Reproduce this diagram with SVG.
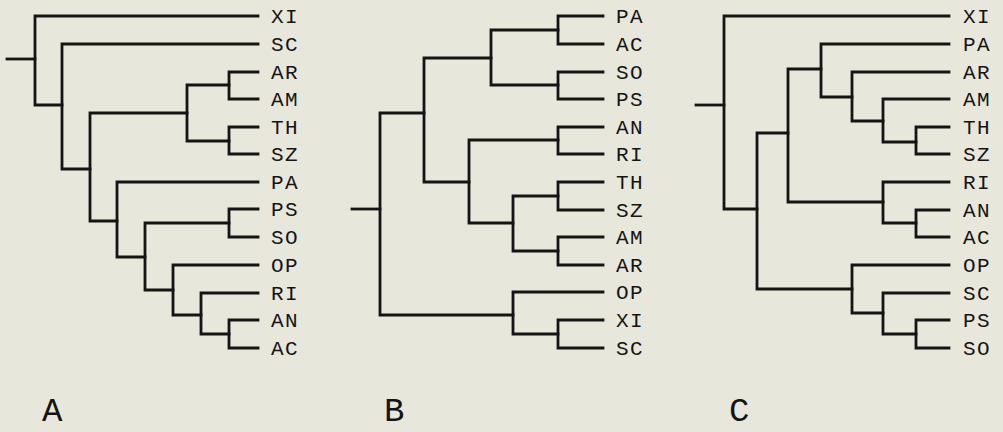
<svg xmlns="http://www.w3.org/2000/svg" width="1003" height="432" viewBox="0 0 1003 432">
<style>
.bg{fill:#e8e7dc}
.edge{fill:none;stroke:#141414;stroke-width:2.8;stroke-linecap:square;stroke-linejoin:miter}
.leaf{font-family:"Liberation Mono","DejaVu Sans Mono",monospace;font-size:21px;fill:#141414;letter-spacing:1.5px}
.panel{font-family:"Liberation Mono","DejaVu Sans Mono",monospace;font-size:34px;fill:#141414}
</style>
<rect class="bg" x="0" y="0" width="1003" height="432"/>
<g id="connectors">
<g id="connectors-A">
<path class="edge" d="M7 59 H35"/>
<path class="edge" d="M258 16 H35 V105 H62"/>
<path class="edge" d="M258 44 H62 V169 H90"/>
<path class="edge" d="M187 113 H90 V221 H117"/>
<path class="edge" d="M229 85 H187 V141 H229"/>
<path class="edge" d="M258 72 H229 V99 H258"/>
<path class="edge" d="M258 127 H229 V154 H258"/>
<path class="edge" d="M258 182 H117 V257 H145"/>
<path class="edge" d="M229 223 H145 V290 H173"/>
<path class="edge" d="M258 209 H229 V237 H258"/>
<path class="edge" d="M258 265 H173 V315 H201"/>
<path class="edge" d="M258 293 H201 V334 H229"/>
<path class="edge" d="M258 320 H229 V348 H258"/>
</g>
<g id="connectors-B">
<path class="edge" d="M352 209 H380"/>
<path class="edge" d="M424 113 H380 V315 H513"/>
<path class="edge" d="M491 58 H424 V182 H469"/>
<path class="edge" d="M558 30 H491 V85 H558"/>
<path class="edge" d="M603 16 H558 V44 H603"/>
<path class="edge" d="M603 72 H558 V99 H603"/>
<path class="edge" d="M558 140 H469 V223 H513"/>
<path class="edge" d="M603 127 H558 V154 H603"/>
<path class="edge" d="M558 196 H513 V251 H558"/>
<path class="edge" d="M603 182 H558 V210 H603"/>
<path class="edge" d="M603 237 H558 V265 H603"/>
<path class="edge" d="M603 292 H513 V334 H558"/>
<path class="edge" d="M603 320 H558 V348 H603"/>
</g>
<g id="connectors-C">
<path class="edge" d="M696 105 H724"/>
<path class="edge" d="M949 16 H724 V209 H757"/>
<path class="edge" d="M788 133 H757 V289 H852"/>
<path class="edge" d="M821 69 H788 V202 H883"/>
<path class="edge" d="M949 44 H821 V97 H852"/>
<path class="edge" d="M949 72 H852 V121 H883"/>
<path class="edge" d="M949 99 H883 V142 H916"/>
<path class="edge" d="M949 127 H916 V154 H949"/>
<path class="edge" d="M949 182 H883 V223 H916"/>
<path class="edge" d="M949 210 H916 V237 H949"/>
<path class="edge" d="M949 265 H852 V313 H883"/>
<path class="edge" d="M949 293 H883 V334 H916"/>
<path class="edge" d="M949 320 H916 V348 H949"/>
</g>
</g>
<g id="tree-A">
<g id="A-XI"><text class="leaf" x="271" y="23">XI</text></g>
<g id="A-SC"><text class="leaf" x="271" y="51">SC</text></g>
<g id="A-AR"><text class="leaf" x="271" y="79">AR</text></g>
<g id="A-AM"><text class="leaf" x="271" y="106">AM</text></g>
<g id="A-TH"><text class="leaf" x="271" y="134">TH</text></g>
<g id="A-SZ"><text class="leaf" x="271" y="161">SZ</text></g>
<g id="A-PA"><text class="leaf" x="271" y="189">PA</text></g>
<g id="A-PS"><text class="leaf" x="271" y="216">PS</text></g>
<g id="A-SO"><text class="leaf" x="271" y="244">SO</text></g>
<g id="A-OP"><text class="leaf" x="271" y="272">OP</text></g>
<g id="A-RI"><text class="leaf" x="271" y="300">RI</text></g>
<g id="A-AN"><text class="leaf" x="271" y="327">AN</text></g>
<g id="A-AC"><text class="leaf" x="271" y="355">AC</text></g>
<g id="A-label"><text class="panel" x="42" y="421">A</text></g>
</g>
<g id="tree-B">
<g id="B-PA"><text class="leaf" x="616" y="23">PA</text></g>
<g id="B-AC"><text class="leaf" x="616" y="51">AC</text></g>
<g id="B-SO"><text class="leaf" x="616" y="79">SO</text></g>
<g id="B-PS"><text class="leaf" x="616" y="106">PS</text></g>
<g id="B-AN"><text class="leaf" x="616" y="134">AN</text></g>
<g id="B-RI"><text class="leaf" x="616" y="161">RI</text></g>
<g id="B-TH"><text class="leaf" x="616" y="189">TH</text></g>
<g id="B-SZ"><text class="leaf" x="616" y="217">SZ</text></g>
<g id="B-AM"><text class="leaf" x="616" y="244">AM</text></g>
<g id="B-AR"><text class="leaf" x="616" y="272">AR</text></g>
<g id="B-OP"><text class="leaf" x="616" y="299">OP</text></g>
<g id="B-XI"><text class="leaf" x="616" y="327">XI</text></g>
<g id="B-SC"><text class="leaf" x="616" y="355">SC</text></g>
<g id="B-label"><text class="panel" x="384" y="421">B</text></g>
</g>
<g id="tree-C">
<g id="C-XI"><text class="leaf" x="963" y="23">XI</text></g>
<g id="C-PA"><text class="leaf" x="963" y="51">PA</text></g>
<g id="C-AR"><text class="leaf" x="963" y="79">AR</text></g>
<g id="C-AM"><text class="leaf" x="963" y="106">AM</text></g>
<g id="C-TH"><text class="leaf" x="963" y="134">TH</text></g>
<g id="C-SZ"><text class="leaf" x="963" y="161">SZ</text></g>
<g id="C-RI"><text class="leaf" x="963" y="189">RI</text></g>
<g id="C-AN"><text class="leaf" x="963" y="217">AN</text></g>
<g id="C-AC"><text class="leaf" x="963" y="244">AC</text></g>
<g id="C-OP"><text class="leaf" x="963" y="272">OP</text></g>
<g id="C-SC"><text class="leaf" x="963" y="300">SC</text></g>
<g id="C-PS"><text class="leaf" x="963" y="327">PS</text></g>
<g id="C-SO"><text class="leaf" x="963" y="355">SO</text></g>
<g id="C-label"><text class="panel" x="729" y="421">C</text></g>
</g>
</svg>
